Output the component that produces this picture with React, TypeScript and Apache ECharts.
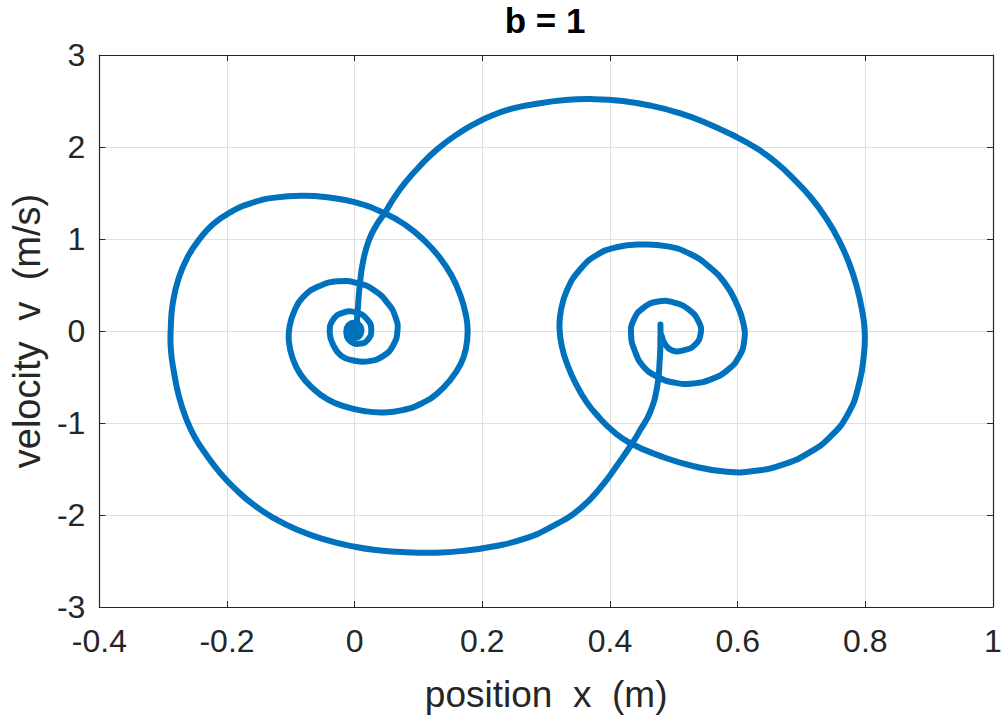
import React, { useEffect, useRef } from "react";
import * as echarts from "echarts";

// Phase-plane trajectories for the damped oscillator, b = 1.
// Trajectory A: leaves the right equilibrium and spirals into the origin.
const trajAx = [
  0.479, 0.479, 0.478, 0.474, 0.463, 0.447, 0.432, 0.412, 0.39, 0.355, 0.308, 0.265, 0.219, 0.17,
  0.123, 0.08, 0.04, 0.0, -0.045, -0.09, -0.13, -0.16, -0.185, -0.21, -0.232, -0.25, -0.263,
  -0.275, -0.283, -0.288, -0.288, -0.285, -0.276, -0.262, -0.244, -0.222, -0.195, -0.162, -0.125,
  -0.079, -0.04, 0.0, 0.047, 0.08, 0.108, 0.133, 0.152, 0.166, 0.174, 0.177, 0.174, 0.166, 0.15,
  0.129, 0.104, 0.075, 0.045, 0.015, -0.016, -0.043, -0.066, -0.085, -0.097, -0.103, -0.102,
  -0.095, -0.082, -0.058, -0.026, 0.005, 0.031, 0.052, 0.064, 0.067, 0.06, 0.045, 0.021, -0.002,
  -0.021, -0.033, -0.039, -0.034, -0.018, 0.003, 0.019, 0.026, 0.02, 0.005, -0.007, -0.013, -0.01,
  0.0, 0.009, 0.01, 0.004, -0.004, -0.007, -0.003, 0.003, 0.004, 0.0, 0.0,
];
const trajAv = [
  0.07, -0.1, -0.3, -0.6, -0.88, -1.08, -1.25, -1.45, -1.66, -1.92, -2.13, -2.26, -2.34, -2.39,
  -2.41, -2.405, -2.385, -2.345, -2.27, -2.16, -2.02, -1.88, -1.73, -1.55, -1.35, -1.16, -0.97,
  -0.72, -0.45, -0.2, 0.05, 0.3, 0.57, 0.8, 0.99, 1.16, 1.29, 1.39, 1.45,
  1.47, 1.45, 1.4, 1.28, 1.15, 0.99, 0.8, 0.6, 0.38, 0.18, 0.0, -0.2, -0.36, -0.53,
  -0.68, -0.79, -0.86, -0.885, -0.87, -0.82, -0.74, -0.62, -0.47, -0.3, -0.12, 0.05,
  0.21, 0.36, 0.48, 0.54, 0.52, 0.44, 0.3, 0.15, 0.0, -0.16, -0.27, -0.33, -0.32,
  -0.27, -0.16, -0.02, 0.12, 0.2, 0.2, 0.13, 0.02, -0.1, -0.14, -0.11, -0.02, 0.06,
  0.09, 0.05, -0.02, -0.07, -0.06, 0.0, 0.04, 0.03, -0.01, -0.02, 0.0,
];

// Trajectory B: leaves the origin and spirals into the right equilibrium.
const trajBx = [
  0.003, 0.005, 0.008, 0.013, 0.022, 0.034, 0.047, 0.062, 0.08, 0.103, 0.13, 0.163, 0.19, 0.218,
  0.248, 0.276, 0.33, 0.375, 0.42, 0.464, 0.508, 0.548, 0.592, 0.631, 0.662, 0.688, 0.716, 0.74,
  0.759, 0.775, 0.787, 0.795, 0.799, 0.798, 0.79, 0.773, 0.745, 0.71, 0.672, 0.628, 0.583, 0.531,
  0.479, 0.432, 0.405, 0.383, 0.363, 0.347, 0.334, 0.325, 0.321, 0.323, 0.333, 0.352, 0.378, 0.41,
  0.45, 0.49, 0.525, 0.555, 0.58, 0.598, 0.609, 0.61, 0.602, 0.585, 0.56, 0.53, 0.5, 0.475, 0.453,
  0.439, 0.433, 0.437, 0.452, 0.475, 0.5, 0.524, 0.539, 0.542, 0.533, 0.515, 0.497, 0.486, 0.481,
];
const trajBv = [
  0.05, 0.25, 0.5, 0.75, 0.98, 1.15, 1.28, 1.45, 1.62, 1.8, 1.98, 2.15, 2.26, 2.35,
  2.42, 2.46, 2.51, 2.52, 2.5, 2.45, 2.37, 2.27, 2.13, 1.98, 1.82, 1.65, 1.44, 1.21,
  0.98, 0.73, 0.47, 0.22, 0.0, -0.24, -0.58, -0.9, -1.15, -1.33, -1.45, -1.52, -1.53, -1.47,
  -1.36, -1.22, -1.09, -0.94, -0.77, -0.58, -0.38, -0.18, 0.02, 0.22, 0.45, 0.66, 0.82, 0.91,
  0.94, 0.92, 0.84, 0.7, 0.52, 0.3, 0.08, -0.12, -0.28, -0.42, -0.52, -0.57, -0.56, -0.5, -0.39,
  -0.22, -0.04, 0.12, 0.25, 0.32, 0.31, 0.23, 0.1, -0.03, -0.15, -0.21, -0.21, -0.14, -0.05,
];

const xTicks = [-0.4, -0.2, 0, 0.2, 0.4, 0.6, 0.8, 1];
const vTicks = [-3, -2, -1, 0, 1, 2, 3];

const titleText = "b = 1";
const xName = "position  x  (m)";
const yName = "velocity  v  (m/s)";

const FONT = "'Liberation Sans', Arial, Helvetica, sans-serif";
const INK = "#262626";
const LINE = "#0072BD";

const zip = (xs: number[], vs: number[]) => xs.map((x, i) => [x, vs[i]]);
const fmt = (v: number) => String(Number(v.toFixed(1)));

// A trajectory drawn as one smooth stroke; every vertex goes through the axis scales.
function trajectorySeries(name: string, xs: number[], vs: number[]) {
  return {
    type: "custom" as const,
    name,
    xAxisIndex: 0,
    yAxisIndex: 0,
    data: zip(xs, vs),
    encode: { x: 0, y: 1 },
    silent: true,
    renderItem: (params: any, api: any) => {
      if (params.dataIndex !== 0) return null;
      const points = xs.map((x, i) => api.coord([x, vs[i]]));
      return {
        type: "polyline",
        shape: { points, smooth: 0.5 },
        style: { stroke: LINE, lineWidth: 6, fill: null, lineCap: "round", lineJoin: "round" },
      };
    },
  };
}

export default function App() {
  const ref = useRef<HTMLDivElement>(null);

  useEffect(() => {
    if (!ref.current) return;
    const chart = echarts.init(ref.current, null, { renderer: "svg" });

    const frameX = {
      type: "value" as const,
      min: xTicks[0],
      max: xTicks[xTicks.length - 1],
      interval: 0.2,
    };
    const frameY = {
      type: "value" as const,
      min: vTicks[0],
      max: vTicks[vTicks.length - 1],
      interval: 1,
    };
    const tick = { show: true, inside: true, length: 6, lineStyle: { color: INK, width: 1 } };
    const axisLine = { show: true, onZero: false, lineStyle: { color: INK, width: 1.2 } };

    chart.setOption({
      animation: false,
      backgroundColor: "#ffffff",
      title: {
        text: titleText,
        left: 540,
        top: -2,
        textAlign: "center",
        textStyle: { fontFamily: FONT, fontSize: 35, fontWeight: "bold", color: "#000" },
      },
      grid: { left: 98, right: 13, top: 55, bottom: 116, containLabel: false },
      xAxis: [
        {
          ...frameX,
          position: "bottom",
          name: xName,
          nameLocation: "middle",
          nameGap: 69,
          nameTextStyle: { fontFamily: FONT, fontSize: 37, color: INK },
          axisLine,
          axisTick: tick,
          axisLabel: { fontFamily: FONT, fontSize: 32, color: INK, margin: 18, formatter: fmt },
          splitLine: { show: true, lineStyle: { color: "#dfdfdf", width: 1 } },
        },
        {
          ...frameX,
          position: "top",
          axisLine,
          axisTick: tick,
          axisLabel: { show: false },
          splitLine: { show: false },
        },
      ],
      yAxis: [
        {
          ...frameY,
          position: "left",
          name: yName,
          nameLocation: "middle",
          nameGap: 53,
          nameTextStyle: { fontFamily: FONT, fontSize: 38, color: INK },
          axisLine,
          axisTick: tick,
          axisLabel: { fontFamily: FONT, fontSize: 32, color: INK, margin: 14, formatter: fmt },
          splitLine: { show: true, lineStyle: { color: "#dfdfdf", width: 1 } },
        },
        {
          ...frameY,
          position: "right",
          axisLine,
          axisTick: tick,
          axisLabel: { show: false },
          splitLine: { show: false },
        },
      ],
      series: [
        trajectorySeries("A", trajAx, trajAv),
        trajectorySeries("B", trajBx, trajBv),
      ],
    });

    return () => chart.dispose();
  }, []);

  return (
    <div
      ref={ref}
      style={{ position: "absolute", left: 0, top: 0, width: 1006, height: 723, background: "#fff" }}
    />
  );
}
